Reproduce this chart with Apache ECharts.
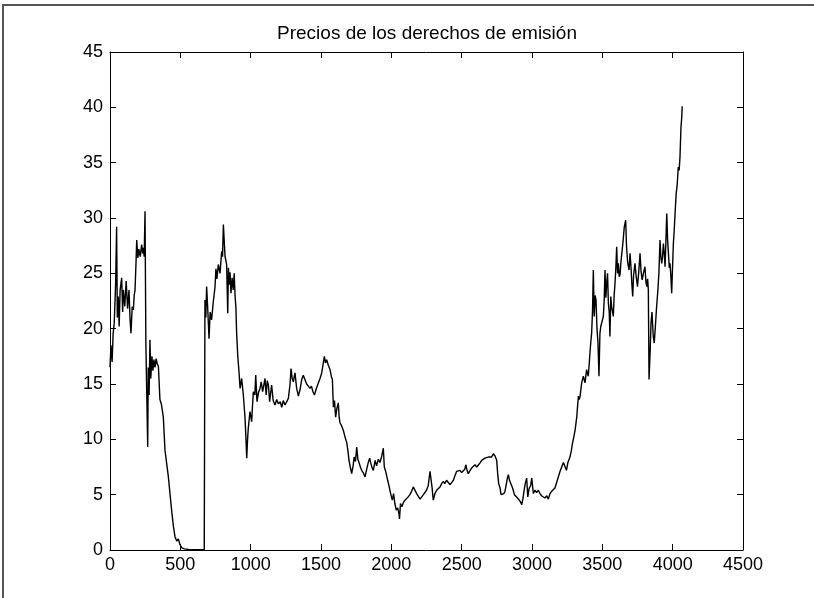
<!DOCTYPE html>
<html>
<head>
<meta charset="utf-8">
<script src="https://cdn.jsdelivr.net/npm/echarts@6/dist/echarts.min.js"></script>
<style>
html,body{margin:0;padding:0;background:#fff;}
#chart{width:814px;height:598px;}
</style>
</head>
<body>
<div id="chart"></div>
<script>
// Data: [day index, price]
const titleText = 'Precios de los derechos de emisión';
const xTicks = [0, 500, 1000, 1500, 2000, 2500, 3000, 3500, 4000, 4500];
const yTicks = [0, 5, 10, 15, 20, 25, 30, 35, 40, 45];

const seg1 = [[0,16.5],[7,18.5],[15,17.0],[22,19.5],[30,20.5],[40,24.0],[47,29.2],[52,21.0],[59,22.9],[65,20.2],[72,23.5],[83,24.6],[90,21.5],[95,23.5],[105,22.0],[115,24.3],[125,21.8],[135,23.5],[142,21.0],[149,19.6],[158,22.0],[166,21.7],[172,23.0],[178,23.5],[185,26.0],[190,28.0],[198,26.4],[205,27.2],[215,26.5],[225,27.6],[232,26.8],[237,27.3],[243,26.5],[249,30.6],[255,18.7],[260,15.0],[268,9.3],[272,16.5],[278,14.0],[284,19.0],[290,15.5],[298,17.5],[305,16.2],[312,17.2],[320,16.5],[328,17.3],[336,16.8],[344,16.6],[355,13.6],[365,13.2],[379,12.0],[391,9.0],[403,7.8],[415,6.6],[427,5.0],[438,3.6],[450,2.2],[462,1.2],[475,0.8],[486,1.0],[497,0.5],[510,0.2],[530,0.1],[557,0.05],[600,0.02],[640,0.02],[670,0.02]];

const seg2 = [[675,22.6],[681,21.0],[687,23.8],[694,22.0],[704,19.1],[712,21.5],[722,20.8],[735,22.5],[746,23.7],[753,25.4],[760,24.5],[770,25.8],[782,25.0],[794,27.0],[800,26.5],[806,29.4],[812,27.9],[818,26.5],[829,25.8],[837,21.4],[842,25.5],[848,24.0],[853,25.1],[860,23.2],[868,24.6],[876,23.5],[883,25.0],[889,23.0],[895,21.9],[900,19.7],[908,17.6],[917,16.1],[925,14.6],[936,15.5],[948,14.0],[960,11.9],[966,10.2],[972,8.3],[978,10.0],[983,11.0],[995,12.5],[1007,11.6],[1013,13.0],[1019,14.3],[1030,14.0],[1036,15.8],[1045,13.4],[1055,14.2],[1066,14.6],[1075,15.2],[1085,14.3],[1095,15.0],[1102,15.5],[1110,14.0],[1118,15.3],[1126,14.9],[1135,13.4],[1142,14.2],[1149,14.9],[1160,13.5],[1173,13.1],[1185,13.6],[1197,13.2],[1210,13.4],[1221,12.9],[1232,13.5],[1244,13.1],[1256,13.4],[1268,13.7],[1280,15.0],[1287,16.4],[1295,15.5],[1303,15.2],[1315,16.0],[1327,14.6],[1339,13.9],[1351,14.5],[1363,15.4],[1374,15.8],[1386,15.8]];

const seg3 = [[1398,15.0],[1410,15.1],[1422,14.6],[1432,14.8],[1443,14.3],[1453,14.0],[1467,14.6],[1481,15.1],[1493,15.5],[1505,16.0],[1515,16.8],[1524,17.5],[1532,16.9],[1540,17.2],[1552,16.7],[1564,16.3],[1575,15.6],[1581,15.4],[1588,12.9],[1596,13.5],[1604,12.0],[1613,12.8],[1623,13.3],[1629,12.0],[1635,11.5],[1647,11.2],[1659,10.8],[1671,10.2],[1683,9.7],[1691,9.0],[1699,8.1],[1708,7.5],[1718,6.9],[1728,7.6],[1736,8.4],[1745,8.0],[1754,9.3],[1762,8.2],[1770,7.9],[1780,7.5],[1789,7.2],[1800,7.0],[1813,6.6],[1825,7.3],[1836,7.9],[1846,8.3],[1855,7.8],[1864,7.4],[1872,7.2],[1885,8.1],[1895,7.6],[1908,8.2],[1919,7.9],[1930,8.4],[1943,9.2],[1950,7.5],[1962,7.0],[1974,6.3],[1985,5.7],[1995,5.1],[2007,4.5],[2016,5.1],[2025,4.2],[2035,3.6],[2045,3.8],[2054,3.3],[2058,2.8],[2065,4.2],[2075,3.9],[2086,4.3],[2097,4.5],[2110,4.6],[2120,4.8],[2132,5.0],[2144,5.3],[2156,5.7],[2168,5.7],[2180,5.1],[2192,5.0],[2204,4.6],[2216,4.7]];

const seg4 = [[2228,5.0],[2239,5.1],[2250,5.4],[2262,5.8],[2275,7.1],[2283,6.3],[2290,5.6],[2298,4.5],[2310,5.1],[2322,5.4],[2335,5.5],[2346,5.7],[2358,6.0],[2370,6.2],[2380,6.0],[2393,6.3],[2405,6.1],[2418,5.9],[2430,6.0],[2441,6.3],[2452,6.7],[2464,7.1],[2476,7.0],[2488,7.2],[2500,7.0],[2512,6.9],[2522,7.3],[2530,7.7],[2538,7.2],[2547,6.9],[2560,7.2],[2571,7.4],[2583,7.5],[2595,7.7],[2607,7.5],[2620,7.7],[2632,7.9],[2642,8.1],[2655,8.2],[2666,8.3],[2678,8.3],[2689,8.4],[2700,8.5],[2712,8.4],[2725,8.7],[2737,8.5],[2749,8.1],[2756,6.9],[2763,6.0],[2773,5.6],[2780,5.0],[2790,4.9],[2800,5.1],[2808,5.3],[2818,6.0],[2825,6.5],[2832,6.8],[2840,6.3],[2850,6.2],[2862,5.6],[2875,5.0],[2887,4.9],[2897,4.7],[2910,4.5],[2920,4.3],[2927,4.1],[2935,4.6],[2944,5.4],[2952,6.0],[2962,6.5],[2970,4.8],[2980,5.6],[2990,5.8],[2998,6.5],[3010,5.1],[3021,5.4],[3033,5.2],[3045,5.4],[3057,5.1],[3068,4.9],[3080,4.8]];

const seg5 = [[3092,4.7],[3105,4.9],[3116,4.6],[3128,5.1],[3140,5.3],[3152,5.4],[3163,5.6],[3175,6.1],[3187,6.6],[3199,7.1],[3211,7.5],[3223,7.9],[3235,7.8],[3245,7.2],[3255,7.9],[3270,8.4],[3280,9.0],[3287,9.6],[3297,10.2],[3306,10.8],[3312,11.4],[3318,12.0],[3324,13.0],[3330,13.9],[3336,13.6],[3342,13.9],[3353,15.1],[3365,15.7],[3377,15.1],[3388,16.3],[3400,15.7],[3406,16.7],[3412,17.8],[3418,18.8],[3424,19.6],[3430,21.5],[3436,25.3],[3442,21.1],[3449,23.0],[3455,22.6],[3462,20.0],[3469,18.7],[3476,15.7],[3483,19.6],[3489,20.2],[3495,20.5],[3507,21.1],[3513,22.5],[3519,25.3],[3525,22.8],[3531,24.1],[3537,25.0],[3543,22.3],[3549,21.5],[3554,19.3],[3560,22.9],[3566,22.0],[3578,21.1],[3584,23.0],[3590,24.1],[3596,25.5],[3602,27.4],[3608,25.0],[3614,25.9],[3620,24.7],[3626,24.9],[3632,26.0],[3641,27.1],[3648,28.0],[3656,29.2],[3666,29.8],[3672,27.4],[3680,26.0],[3690,25.3],[3697,26.8],[3704,25.5],[3710,24.0],[3716,22.9],[3722,24.8],[3732,25.9],[3740,24.8],[3750,23.8],[3758,25.0],[3768,26.8],[3775,25.2],[3783,24.4],[3792,25.0],[3803,25.6],[3810,24.2],[3816,23.8],[3822,24.5],[3827,23.5],[3832,15.4],[3840,18.0],[3846,20.5],[3853,21.5],[3862,19.3],[3869,18.7],[3876,20.0],[3886,22.0],[3895,23.5],[3902,25.0],[3910,28.0],[3916,26.5],[3922,25.9],[3928,26.5],[3934,27.7],[3940,26.8],[3946,25.6],[3952,28.0],[3958,30.4],[3964,28.0],[3970,26.8],[3976,25.5],[3981,25.9],[3987,24.8],[3993,23.2],[3999,25.5],[4005,27.7],[4011,28.9],[4017,30.4],[4025,32.2],[4032,33.0],[4040,34.6],[4046,34.3],[4052,35.5],[4059,38.2],[4064,39.0],[4068,40.1]];

const prices = [].concat(seg1, seg2, seg3, seg4, seg5);

const FONT = '"Liberation Sans", Arial, Helvetica, sans-serif';
const plain = v => String(v);
const axisCommon = {
  axisLine: { show: true, onZero: false, lineStyle: { color: '#000', width: 1 } },
  axisTick: { show: true, inside: true, length: 6, lineStyle: { color: '#000', width: 1 } },
  splitLine: { show: false }
};

const chart = echarts.init(document.getElementById('chart'), null, { renderer: 'canvas' });
chart.setOption({
  animation: false,
  backgroundColor: '#fff',
  title: {
    text: titleText,
    left: 422,
    textAlign: 'center',
    top: 19,
    textStyle: { fontFamily: FONT, fontSize: 19, fontWeight: 'normal', color: '#000' }
  },
  graphic: [{
    type: 'rect',
    shape: { x: 3, y: 5, width: 900, height: 700 },
    style: { fill: 'none', stroke: '#555', lineWidth: 2 },
    silent: true
  }],
  grid: { left: 110, right: 71, top: 52, bottom: 48, containLabel: false },
  xAxis: [
    Object.assign({}, axisCommon, {
      type: 'value', min: xTicks[0], max: xTicks[xTicks.length - 1], interval: 500,
      position: 'bottom',
      axisLabel: { fontFamily: FONT, fontSize: 18, color: '#000', margin: 6, formatter: plain }
    }),
    Object.assign({}, axisCommon, {
      type: 'value', min: xTicks[0], max: xTicks[xTicks.length - 1], interval: 500,
      position: 'top', axisLabel: { show: false }
    })
  ],
  yAxis: [
    Object.assign({}, axisCommon, {
      type: 'value', min: yTicks[0], max: yTicks[yTicks.length - 1], interval: 5,
      position: 'left',
      axisLabel: { fontFamily: FONT, fontSize: 18, color: '#000', margin: 7, formatter: plain }
    }),
    Object.assign({}, axisCommon, {
      type: 'value', min: yTicks[0], max: yTicks[yTicks.length - 1], interval: 5,
      position: 'right', axisLabel: { show: false }
    })
  ],
  series: [{
    type: 'line',
    data: prices,
    xAxisIndex: 0,
    yAxisIndex: 0,
    showSymbol: false,
    symbol: 'none',
    lineStyle: { color: '#000', width: 1.4 },
    sampling: null
  }]
});
</script>
</body>
</html>
